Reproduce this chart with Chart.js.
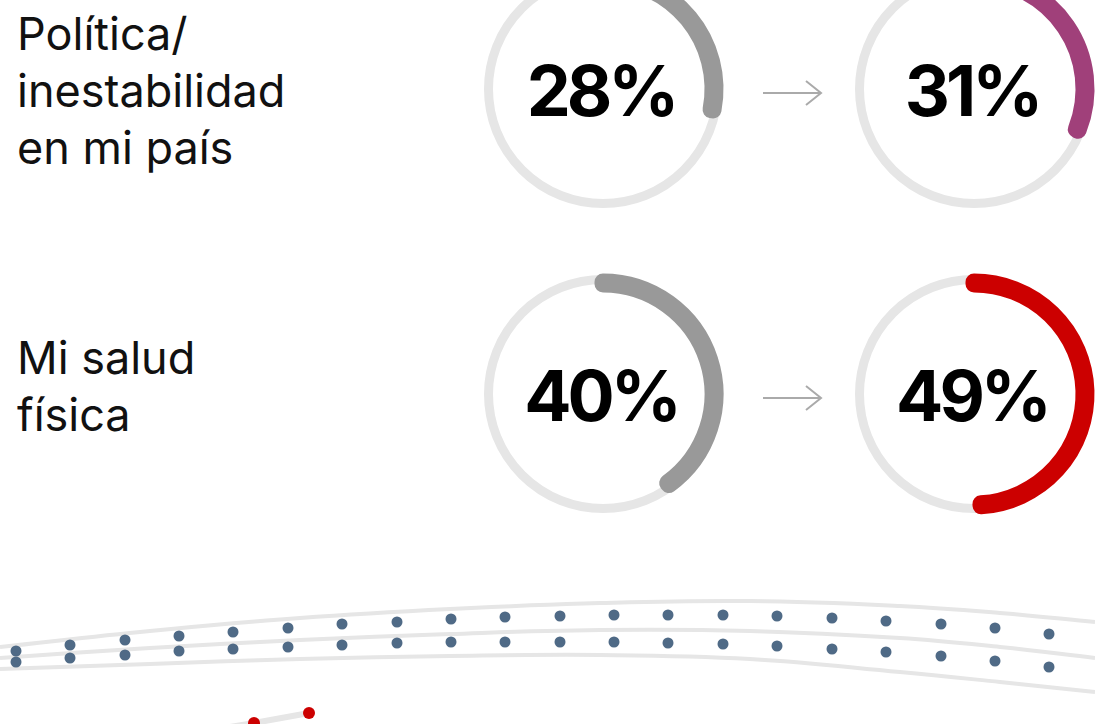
<!DOCTYPE html>
<html>
<head>
<meta charset="utf-8">
<script src="https://cdn.jsdelivr.net/npm/chart.js@4.4.0/dist/chart.umd.min.js"></script>
<style>
  html, body { margin: 0; padding: 0; background: #fff; overflow: hidden; }
  body { width: 1095px; height: 724px; position: relative; font-family: Inter, "Noto Sans", sans-serif; }
  .label { position: absolute; left: 17px; font-size: 45px; line-height: 57px; color: #111; white-space: pre; }
  canvas { position: absolute; }
  svg { position: absolute; left: 0; top: 0; }
</style>
</head>
<body>
<div class="label" id="label0" style="top:5px"></div>
<div class="label" id="label1" style="top:329px"></div>

<canvas id="ring0a" width="260" height="260" style="left:473px;top:-41px"></canvas>
<canvas id="ring0b" width="260" height="260" style="left:844px;top:-41px"></canvas>
<canvas id="ring1a" width="260" height="260" style="left:473px;top:264px"></canvas>
<canvas id="ring1b" width="260" height="260" style="left:844px;top:264px"></canvas>

<svg width="1095" height="724">
  <g stroke="#aaa" stroke-width="2" fill="none">
    <path d="M763 93 H821 M806 81 L821 93 L806 105"/>
    <path d="M763 398 H821 M806 386 L821 398 L806 410"/>
  </g>
</svg>

<canvas id="wave" width="1095" height="139" style="left:0;top:585px"></canvas>

<script>
// ring gauges: share before -> after
const categories = ['Política/\ninestabilidad\nen mi país', 'Mi salud\nfísica'];
const beforeValues = [28, 40];
const afterValues = [31, 49];

// decorative band at the bottom
const dotCols = [16, 70, 125, 179, 233, 288, 342, 397, 451, 505, 560, 614, 668, 723, 777, 832, 886, 941, 995, 1049];
const dotsTop = [651, 645, 640, 636, 632, 628, 624, 622, 619, 617, 616, 615, 615, 615, 616, 618, 621, 624, 628, 634];
const dotsBottom = [662, 658, 655, 651, 649, 647, 645, 643, 642, 642, 642, 642, 643, 644, 646, 649, 652, 656, 661, 667];
const bandX = [0, 150, 300, 450, 600, 750, 900, 1000, 1095];
const bandTop = [647, 631, 618, 609, 603, 601, 606, 613, 622];
const bandMid = [658, 648, 640, 634, 630, 631, 638, 647, 658];
const bandLow = [669, 664, 659, 656, 655, 659, 672, 682, 692];
const redX = [200, 254, 309];
const redY = [732, 723, 713];

const GRAY = '#999999';
const afterColors = ['#a0407a', '#cc0000'];

categories.forEach((c, i) => { document.getElementById('label' + i).textContent = c; });

const ringTrack = {
  id: 'ringTrack',
  beforeDatasetsDraw(chart) {
    const arc = chart.getDatasetMeta(0).data[0];
    const ctx = chart.ctx;
    ctx.save();
    ctx.beginPath();
    ctx.arc(arc.x, arc.y, arc.outerRadius + 2.5, 0, Math.PI * 2);
    ctx.lineWidth = 9;
    ctx.strokeStyle = '#e6e6e6';
    ctx.stroke();
    ctx.restore();
  }
};

const centerLabel = {
  id: 'centerLabel',
  afterDatasetsDraw(chart) {
    const arc = chart.getDatasetMeta(0).data[0];
    const ctx = chart.ctx;
    ctx.save();
    ctx.font = '700 70px Inter';
    ctx.letterSpacing = '-4px';
    ctx.fillStyle = '#000';
    ctx.textAlign = 'center';
    ctx.textBaseline = 'alphabetic';
    ctx.fillText(chart.data.datasets[0].data[0] + '%', arc.x - 2, arc.y + 27);
    ctx.restore();
  }
};

function makeRing(id, value, color) {
  return new Chart(document.getElementById(id), {
    type: 'doughnut',
    data: {
      datasets: [{
        data: [value, 100 - value],
        backgroundColor: [color, 'rgba(0,0,0,0)'],
        borderColor: [color, 'rgba(0,0,0,0)'],
        borderWidth: [17, 0],
        borderJoinStyle: 'round',
        borderAlign: 'center'
      }]
    },
    options: {
      responsive: false,
      animation: false,
      events: [],
      cutout: 110,
      layout: { padding: 9.5 },
      plugins: { legend: { display: false }, tooltip: { enabled: false } }
    },
    plugins: [ringTrack, centerLabel]
  });
}

makeRing('ring0a', beforeValues[0], GRAY);
makeRing('ring0b', afterValues[0], afterColors[0]);
makeRing('ring1a', beforeValues[1], GRAY);
makeRing('ring1b', afterValues[1], afterColors[1]);

// bottom band
const pts = (xs, ys) => xs.map((x, i) => ({ x: x, y: ys[i] }));
const bandLine = ys => ({
  data: pts(bandX, ys), showLine: true, borderColor: '#e6e6e6', borderWidth: 4,
  pointRadius: 0, tension: 0.4, order: 2
});

new Chart(document.getElementById('wave'), {
  type: 'scatter',
  data: {
    datasets: [
      { data: pts(dotCols, dotsTop), pointRadius: 5.5, backgroundColor: '#4f6a86', borderWidth: 0, order: 0 },
      { data: pts(dotCols, dotsBottom), pointRadius: 5.5, backgroundColor: '#4f6a86', borderWidth: 0, order: 0 },
      { data: pts(redX, redY), showLine: true, borderColor: '#e6e6e6', borderWidth: 6,
        pointRadius: 6, pointBackgroundColor: '#cc0000', pointBorderWidth: 0, order: 1 },
      bandLine(bandTop),
      bandLine(bandMid),
      bandLine(bandLow)
    ]
  },
  options: {
    responsive: false,
    animation: false,
    events: [],
    layout: { padding: 0, autoPadding: false },
    plugins: { legend: { display: false }, tooltip: { enabled: false } },
    scales: {
      x: { type: 'linear', min: 0, max: 1095, display: false },
      y: { min: 585, max: 724, reverse: true, display: false }
    }
  }
});
</script>
</body>
</html>
